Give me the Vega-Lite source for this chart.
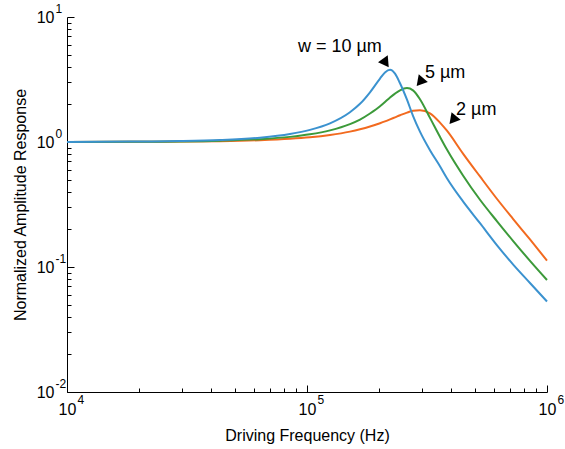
{
  "$schema": "https://vega.github.io/schema/vega-lite/v6.json",
  "width": 480,
  "height": 375,
  "autosize": "none",
  "padding": {"left": 67, "top": 17, "right": 18, "bottom": 57},
  "config": {
    "view": {"stroke": null},
    "font": "Liberation Sans",
    "axis": {
      "grid": false,
      "domainColor": "black",
      "tickColor": "black",
      "labelColor": "black",
      "titleColor": "black",
      "labelFont": "Liberation Sans",
      "titleFont": "Liberation Sans",
      "titleFontWeight": "normal",
      "labelOverlap": false,
      "labelFlush": false,
      "labelBound": false
    }
  },
  "datasets": {
    "curves": [
      {"f": 10000, "A": 1.0, "w": "2 µm"},
      {"f": 18300, "A": 1.003, "w": "2 µm"},
      {"f": 29600, "A": 1.007, "w": "2 µm"},
      {"f": 43400, "A": 1.015, "w": "2 µm"},
      {"f": 63700, "A": 1.034, "w": "2 µm"},
      {"f": 84900, "A": 1.061, "w": "2 µm"},
      {"f": 102900, "A": 1.091, "w": "2 µm"},
      {"f": 124700, "A": 1.138, "w": "2 µm"},
      {"f": 151000, "A": 1.211, "w": "2 µm"},
      {"f": 166300, "A": 1.264, "w": "2 µm"},
      {"f": 183000, "A": 1.33, "w": "2 µm"},
      {"f": 201500, "A": 1.414, "w": "2 µm"},
      {"f": 211300, "A": 1.462, "w": "2 µm"},
      {"f": 221800, "A": 1.517, "w": "2 µm"},
      {"f": 232700, "A": 1.576, "w": "2 µm"},
      {"f": 244100, "A": 1.637, "w": "2 µm"},
      {"f": 261000, "A": 1.719, "w": "2 µm"},
      {"f": 276500, "A": 1.775, "w": "2 µm"},
      {"f": 295600, "A": 1.797, "w": "2 µm"},
      {"f": 325400, "A": 1.695, "w": "2 µm"},
      {"f": 358100, "A": 1.43, "w": "2 µm"},
      {"f": 382900, "A": 1.231, "w": "2 µm"},
      {"f": 446700, "A": 0.808, "w": "2 µm"},
      {"f": 525800, "A": 0.53, "w": "2 µm"},
      {"f": 619300, "A": 0.35, "w": "2 µm"},
      {"f": 721600, "A": 0.243, "w": "2 µm"},
      {"f": 849500, "A": 0.166, "w": "2 µm"},
      {"f": 1000000, "A": 0.1125, "w": "2 µm"},

      {"f": 10000, "A": 1.0, "w": "5 µm"},
      {"f": 18300, "A": 1.004, "w": "5 µm"},
      {"f": 29600, "A": 1.011, "w": "5 µm"},
      {"f": 43400, "A": 1.025, "w": "5 µm"},
      {"f": 63700, "A": 1.054, "w": "5 µm"},
      {"f": 84900, "A": 1.099, "w": "5 µm"},
      {"f": 102900, "A": 1.152, "w": "5 µm"},
      {"f": 124700, "A": 1.239, "w": "5 µm"},
      {"f": 151000, "A": 1.39, "w": "5 µm"},
      {"f": 166300, "A": 1.51, "w": "5 µm"},
      {"f": 183000, "A": 1.69, "w": "5 µm"},
      {"f": 201500, "A": 1.93, "w": "5 µm"},
      {"f": 211300, "A": 2.09, "w": "5 µm"},
      {"f": 221800, "A": 2.27, "w": "5 µm"},
      {"f": 232700, "A": 2.44, "w": "5 µm"},
      {"f": 244100, "A": 2.59, "w": "5 µm"},
      {"f": 261000, "A": 2.7, "w": "5 µm"},
      {"f": 276500, "A": 2.59, "w": "5 µm"},
      {"f": 295600, "A": 2.2, "w": "5 µm"},
      {"f": 325400, "A": 1.56, "w": "5 µm"},
      {"f": 358100, "A": 1.1, "w": "5 µm"},
      {"f": 382900, "A": 0.87, "w": "5 µm"},
      {"f": 446700, "A": 0.54, "w": "5 µm"},
      {"f": 525800, "A": 0.345, "w": "5 µm"},
      {"f": 619300, "A": 0.232, "w": "5 µm"},
      {"f": 721600, "A": 0.162, "w": "5 µm"},
      {"f": 849500, "A": 0.112, "w": "5 µm"},
      {"f": 1000000, "A": 0.0787, "w": "5 µm"},

      {"f": 10000, "A": 1.0, "w": "10 µm"},
      {"f": 18300, "A": 1.007, "w": "10 µm"},
      {"f": 29600, "A": 1.017, "w": "10 µm"},
      {"f": 43400, "A": 1.037, "w": "10 µm"},
      {"f": 63700, "A": 1.083, "w": "10 µm"},
      {"f": 84900, "A": 1.158, "w": "10 µm"},
      {"f": 102900, "A": 1.25, "w": "10 µm"},
      {"f": 124700, "A": 1.41, "w": "10 µm"},
      {"f": 151000, "A": 1.73, "w": "10 µm"},
      {"f": 166300, "A": 2.02, "w": "10 µm"},
      {"f": 183000, "A": 2.5, "w": "10 µm"},
      {"f": 201500, "A": 3.22, "w": "10 µm"},
      {"f": 211300, "A": 3.6, "w": "10 µm"},
      {"f": 221800, "A": 3.78, "w": "10 µm"},
      {"f": 232700, "A": 3.52, "w": "10 µm"},
      {"f": 244100, "A": 2.95, "w": "10 µm"},
      {"f": 261000, "A": 2.18, "w": "10 µm"},
      {"f": 276500, "A": 1.62, "w": "10 µm"},
      {"f": 295600, "A": 1.21, "w": "10 µm"},
      {"f": 325400, "A": 0.86, "w": "10 µm"},
      {"f": 358100, "A": 0.64, "w": "10 µm"},
      {"f": 382900, "A": 0.513, "w": "10 µm"},
      {"f": 446700, "A": 0.335, "w": "10 µm"},
      {"f": 525800, "A": 0.224, "w": "10 µm"},
      {"f": 619300, "A": 0.149, "w": "10 µm"},
      {"f": 721600, "A": 0.105, "w": "10 µm"},
      {"f": 849500, "A": 0.0745, "w": "10 µm"},
      {"f": 1000000, "A": 0.053, "w": "10 µm"}
    ],
    "arrows": [
      {"f": 213000, "A": 4.29, "angle": -35},
      {"f": 295600, "A": 3.02, "angle": 40},
      {"f": 405000, "A": 1.5, "angle": 40}
    ],
    "notes": [
      {"f": 91700, "A": 5.75, "label": "w = 10 µm"},
      {"f": 310000, "A": 3.56, "label": "5 µm"},
      {"f": 418000, "A": 1.8, "label": "2 µm"}
    ]
  },
  "resolve": {"axis": {"x": "independent", "y": "independent"}},
  "layer": [
    {
      "data": {"name": "curves"},
      "mark": {"type": "line", "strokeWidth": 2, "interpolate": "monotone"},
      "encoding": {
        "x": {
          "field": "f", "type": "quantitative",
          "scale": {"type": "log", "domain": [10000, 1000000]},
          "axis": {
            "orient": "bottom",
            "values": [10000, 100000, 1000000],
            "labelExpr": "'10'",
            "labelFontSize": 16,
            "tickSize": -7,
            "labelPadding": 16,
            "title": "Driving Frequency (Hz)",
            "titleFontSize": 16,
            "titlePadding": 10
          }
        },
        "y": {
          "field": "A", "type": "quantitative",
          "scale": {"type": "log", "domain": [0.01, 10]},
          "axis": {
            "orient": "left",
            "values": [0.01, 0.1, 1, 10],
            "labelExpr": "'10'",
            "labelFontSize": 16,
            "tickSize": -7,
            "labelPadding": 20,
            "title": "Normalized Amplitude Response",
            "titleFontSize": 16,
            "titlePadding": 8
          }
        },
        "color": {
          "field": "w", "type": "nominal",
          "scale": {"domain": ["2 µm", "5 µm", "10 µm"], "range": ["#f26a1f", "#3c9a3a", "#3b92cf"]},
          "legend": null
        }
      }
    },
    {
      "data": {"name": "arrows"},
      "mark": {"type": "point", "shape": "triangle-down", "filled": true, "color": "black", "opacity": 1, "size": 140},
      "encoding": {
        "x": {
          "field": "f", "type": "quantitative",
          "scale": {"type": "log", "domain": [10000, 1000000]},
          "axis": {
            "orient": "bottom",
            "values": [10000, 100000, 1000000],
            "labelExpr": "'' + round(log(datum.value) / LN10)",
            "labelFontSize": 12,
            "ticks": false,
            "domain": false,
            "labelAlign": "left",
            "labelBaseline": "top",
            "labelOffset": 10,
            "labelPadding": 2,
            "title": null
          }
        },
        "y": {
          "field": "A", "type": "quantitative",
          "scale": {"type": "log", "domain": [0.01, 10]},
          "axis": {
            "orient": "left",
            "values": [0.01, 0.1, 1, 10],
            "labelExpr": "'' + round(log(datum.value) / LN10)",
            "labelFontSize": 12,
            "ticks": false,
            "domain": false,
            "labelAlign": "left",
            "labelBaseline": "middle",
            "labelOffset": -9,
            "labelPadding": 12,
            "title": null
          }
        },
        "angle": {"field": "angle", "type": "quantitative", "scale": null}
      }
    },
    {
      "data": {"name": "notes"},
      "mark": {"type": "text", "align": "left", "baseline": "middle", "fontSize": 18, "font": "Liberation Sans", "color": "black"},
      "encoding": {
        "x": {
          "field": "f", "type": "quantitative",
          "scale": {"type": "log", "domain": [10000, 1000000]},
          "axis": {
            "orient": "bottom",
            "values": [20000, 30000, 40000, 50000, 60000, 70000, 80000, 90000, 200000, 300000, 400000, 500000, 600000, 700000, 800000, 900000],
            "labels": false,
            "domain": false,
            "tickSize": -4,
            "title": null
          }
        },
        "y": {
          "field": "A", "type": "quantitative",
          "scale": {"type": "log", "domain": [0.01, 10]},
          "axis": {
            "orient": "left",
            "values": [0.02, 0.03, 0.04, 0.05, 0.06, 0.07, 0.08, 0.09, 0.2, 0.3, 0.4, 0.5, 0.6, 0.7, 0.8, 0.9, 2, 3, 4, 5, 6, 7, 8, 9],
            "labels": false,
            "domain": false,
            "tickSize": -4,
            "title": null
          }
        },
        "text": {"field": "label", "type": "nominal"}
      }
    }
  ]
}
